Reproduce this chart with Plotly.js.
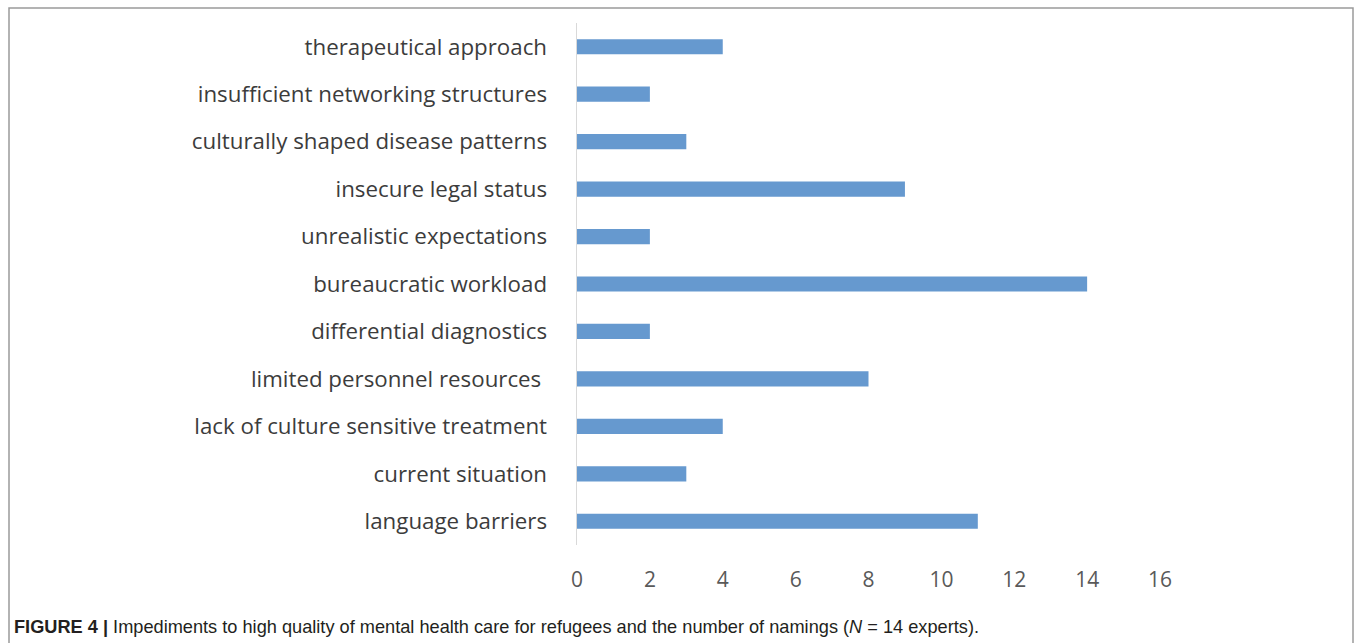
<!DOCTYPE html>
<html>
<head>
<meta charset="utf-8">
<script src="https://cdn.plot.ly/plotly-3.0.1.min.js"></script>
<style>
html,body{margin:0;padding:0;background:#fff;}
#chart{width:1355px;height:643px;}
</style>
</head>
<body>
<div id="chart"></div>
<script>
const categories = [
  "therapeutical approach",
  "insufficient networking structures",
  "culturally shaped disease patterns",
  "insecure legal status",
  "unrealistic expectations",
  "bureaucratic workload",
  "differential diagnostics",
  "limited personnel resources ",
  "lack of culture sensitive treatment",
  "current situation",
  "language barriers"
];
const namings = [4, 2, 3, 9, 2, 14, 2, 8, 4, 3, 11];
const xTicks = [0, 2, 4, 6, 8, 10, 12, 14, 16];

const L = 577, R = 1160, T = 23, B = 545, W = 1355, H = 643;
const pw = R - L, ph = B - T;
const px = v => (v - L) / pw;
const py = v => (B - v) / ph;

const trace = {
  type: 'bar',
  orientation: 'h',
  y: categories,
  x: namings,
  marker: {color: '#6699cf'},
  width: 0.32,
  hoverinfo: 'x+y'
};

const layout = {
  width: W, height: H,
  margin: {l: L, r: W - R, t: T, b: H - B},
  paper_bgcolor: '#fff', plot_bgcolor: '#fff',
  showlegend: false,
  font: {family: 'Open Sans, sans-serif', color: '#404040'},
  xaxis: {
    range: [0, 16], tickvals: xTicks, ticktext: xTicks.map(String),
    showgrid: false, zeroline: false, showline: false,
    ticks: '', ticklabelstandoff: 20,
    tickfont: {size: 21, color: '#595959', family: 'Open Sans, sans-serif'}
  },
  yaxis: {
    autorange: 'reversed', type: 'category',
    showgrid: false, zeroline: false, showline: true,
    linecolor: '#d9d9d9', linewidth: 1.5,
    ticks: '', ticklabelstandoff: 24,
    tickfont: {size: 22.3, color: '#3c3c3c', family: 'Open Sans, sans-serif'}
  },
  shapes: [{
    type: 'rect', xref: 'paper', yref: 'paper',
    x0: px(9), x1: px(1353), y0: py(660), y1: py(8),
    line: {color: '#9a9a9a', width: 1.5}, fillcolor: 'rgba(0,0,0,0)', layer: 'below'
  }],
  annotations: [{
    xref: 'paper', yref: 'paper', x: px(12), y: py(627),
    xanchor: 'left', yanchor: 'middle', showarrow: false,
    align: 'left',
    font: {family: 'Liberation Sans, Arial, sans-serif', size: 18.2, color: '#231f20'},
    text: '<b>FIGURE 4 |</b> Impediments to high quality of mental health care for refugees and the number of namings (<i>N</i> = 14 experts).'
  }]
};

Plotly.newPlot('chart', [trace], layout, {displayModeBar: false, staticPlot: true});
</script>
</body>
</html>
